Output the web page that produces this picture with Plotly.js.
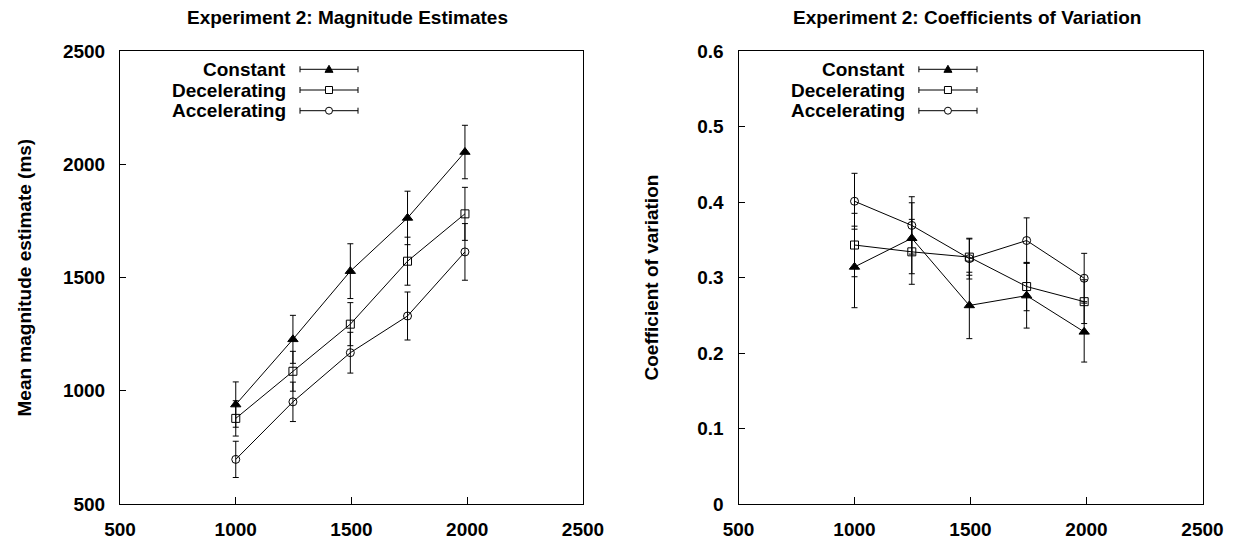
<!DOCTYPE html>
<html>
<head>
<meta charset="utf-8">
<script src="https://cdn.plot.ly/plotly-3.0.1.min.js"></script>
<style>html,body{margin:0;padding:0;background:#fff;}#chart{width:1244px;height:545px;}</style>
</head>
<body>
<div id="chart"></div>
<script>
// ---- data ----
const durations = [1000, 1247, 1495, 1742, 1990];
const seriesNames = ['Constant', 'Decelerating', 'Accelerating'];

const magConstant = [939, 1227, 1528, 1763, 2054];
const magConstantErr = [100, 106, 121, 118, 118];
const magDecel = [878, 1086, 1294, 1572, 1781];
const magDecelErr = [78, 88, 95, 106, 117];
const magAccel = [697, 951, 1168, 1330, 1613];
const magAccelErr = [80, 87, 90, 106, 125];

const cvConstant = [0.314, 0.352, 0.263, 0.276, 0.228];
const cvConstantErr = [0.054, 0.047, 0.044, 0.043, 0.040];
const cvDecel = [0.343, 0.334, 0.327, 0.288, 0.268];
const cvDecelErr = [0.042, 0.043, 0.024, 0.032, 0.029];
const cvAccel = [0.401, 0.369, 0.325, 0.349, 0.299];
const cvAccelErr = [0.037, 0.038, 0.027, 0.030, 0.033];

const xTicks = [500, 1000, 1500, 2000, 2500];
const magTicks = [500, 1000, 1500, 2000, 2500];
const cvTicks = [0, 0.1, 0.2, 0.3, 0.4, 0.5, 0.6];

const leftTitle = 'Experiment 2: Magnitude Estimates';
const rightTitle = 'Experiment 2: Coefficients of Variation';
const leftYTitle = 'Mean magnitude estimate (ms)';
const rightYTitle = 'Coefficient of variation';

// ---- styling ----
const FONT = 'Liberation Sans, Arial, Helvetica, sans-serif';
const symbols = ['triangle-up', 'square-open', 'circle-open'];
const W = 1244, H = 545;
const plotTop = 51, plotBottom = 504;
const leftDom = [120 / W, 583 / W];
const rightDom = [738.5 / W, 1202.5 / W];

function tr(y, err, name, i, xa, ya) {
  return {
    x: durations, y: y, name: name, xaxis: xa, yaxis: ya,
    type: 'scatter', mode: 'lines+markers', showlegend: false,
    line: {color: 'black', width: 1},
    marker: {symbol: symbols[i], size: i === 0 ? 9 : 8, color: 'black', line: {color: 'black', width: 1}},
    error_y: {type: 'data', array: err, visible: true, color: 'black', thickness: 1, width: 3}
  };
}

const data = [
  tr(magConstant, magConstantErr, seriesNames[0], 0, 'x', 'y'),
  tr(magDecel, magDecelErr, seriesNames[1], 1, 'x', 'y'),
  tr(magAccel, magAccelErr, seriesNames[2], 2, 'x', 'y'),
  tr(cvConstant, cvConstantErr, seriesNames[0], 0, 'x2', 'y2'),
  tr(cvDecel, cvDecelErr, seriesNames[1], 1, 'x2', 'y2'),
  tr(cvAccel, cvAccelErr, seriesNames[2], 2, 'x2', 'y2')
];

const tickFont = {family: FONT, size: 19, color: 'black', weight: 'bold'};
function xAxis(dom, anchor) {
  return {
    domain: dom, anchor: anchor, range: [500, 2500], tickvals: xTicks, ticktext: xTicks.map(String),
    ticks: 'inside', ticklen: 7, tickwidth: 1, tickcolor: 'black',
    showline: true, linecolor: 'black', linewidth: 1, mirror: true,
    showgrid: false, zeroline: false, tickfont: tickFont, ticklabelstandoff: 8
  };
}
function yAxis(range, vals, anchor) {
  return {
    domain: [0, 1], anchor: anchor, range: range, tickvals: vals, ticktext: vals.map(String),
    ticks: 'inside', ticklen: 6, tickwidth: 1, tickcolor: 'black',
    showline: true, linecolor: 'black', linewidth: 1, mirror: true,
    showgrid: false, zeroline: false, tickfont: tickFont, ticklabelstandoff: 10
  };
}

const annotations = [];
const shapes = [];
const plotH = plotBottom - plotTop;
function addTitles(dom, title, ytitle, ytitleX) {
  const cx = (dom[0] + dom[1]) / 2 - 4 / W;
  annotations.push({xref: 'paper', yref: 'paper', x: cx, y: (H - 41 - 17) / plotH, yanchor: 'middle', xanchor: 'center', showarrow: false,
    text: title, font: {family: FONT, size: 19, color: 'black', weight: 'bold'}});
  annotations.push({xref: 'paper', yref: 'paper', x: ytitleX / W, y: 0.5, xanchor: 'center', yanchor: 'middle', showarrow: false,
    textangle: -90, text: ytitle, font: {family: FONT, size: 19, color: 'black', weight: 'bold'}});
}
addTitles(leftDom, leftTitle, leftYTitle, 24);
addTitles(rightDom, rightTitle, rightYTitle, 651);

// hand-built legends (text left, sample right)
const rowsPx = [69.3, 90, 110.7];
function addLegend(xr, yr) {
  const xdRef = xr + ' domain', ydRef = yr + ' domain';
  const pw = 463;
  seriesNames.forEach(function (name, i) {
    const yd = (plotBottom - rowsPx[i]) / plotH;
    annotations.push({xref: xdRef, yref: ydRef, x: 168 / pw, y: yd, xanchor: 'right', yanchor: 'middle', showarrow: false,
      text: name, font: {family: FONT, size: 19, color: 'black', weight: 'bold'}});
    const x0 = 180 / pw, x1 = 238 / pw, xm = 209 / pw;
    shapes.push({type: 'line', xref: xdRef, yref: ydRef, x0: x0, x1: x1, y0: yd, y1: yd, line: {color: 'black', width: 1}});
    [x0, x1].forEach(function (xe) {
      shapes.push({type: 'line', xref: xdRef, yref: ydRef, x0: xe, x1: xe, y0: yd - 3 / plotH, y1: yd + 3 / plotH, line: {color: 'black', width: 1}});
    });
    const base = {xref: xdRef, yref: ydRef, xsizemode: 'pixel', ysizemode: 'pixel', xanchor: xm, yanchor: yd, line: {color: 'black', width: 1}};
    if (i === 0) {
      shapes.push(Object.assign({}, base, {type: 'path', path: 'M -4,-3 L 4,-3 L 0,4 Z', fillcolor: 'black'}));
    } else if (i === 1) {
      shapes.push(Object.assign({}, base, {type: 'rect', x0: -3.5, x1: 3.5, y0: -3.5, y1: 3.5, fillcolor: 'white'}));
    } else {
      shapes.push(Object.assign({}, base, {type: 'circle', x0: -3.5, x1: 3.5, y0: -3.5, y1: 3.5, fillcolor: 'white'}));
    }
  });
}
addLegend('x', 'y');
addLegend('x2', 'y2');

const layout = {
  width: W, height: H,
  margin: {l: 0, r: 0, t: plotTop, b: H - plotBottom, pad: 0},
  paper_bgcolor: 'white', plot_bgcolor: 'white',
  showlegend: false,
  font: {family: FONT, color: 'black'},
  xaxis: xAxis(leftDom, 'y'),
  yaxis: yAxis([500, 2500], magTicks, 'x'),
  xaxis2: xAxis(rightDom, 'y2'),
  yaxis2: yAxis([0, 0.6], cvTicks, 'x2'),
  annotations: annotations,
  shapes: shapes
};

Plotly.newPlot('chart', data, layout, {displayModeBar: false, staticPlot: true});
</script>
</body>
</html>
